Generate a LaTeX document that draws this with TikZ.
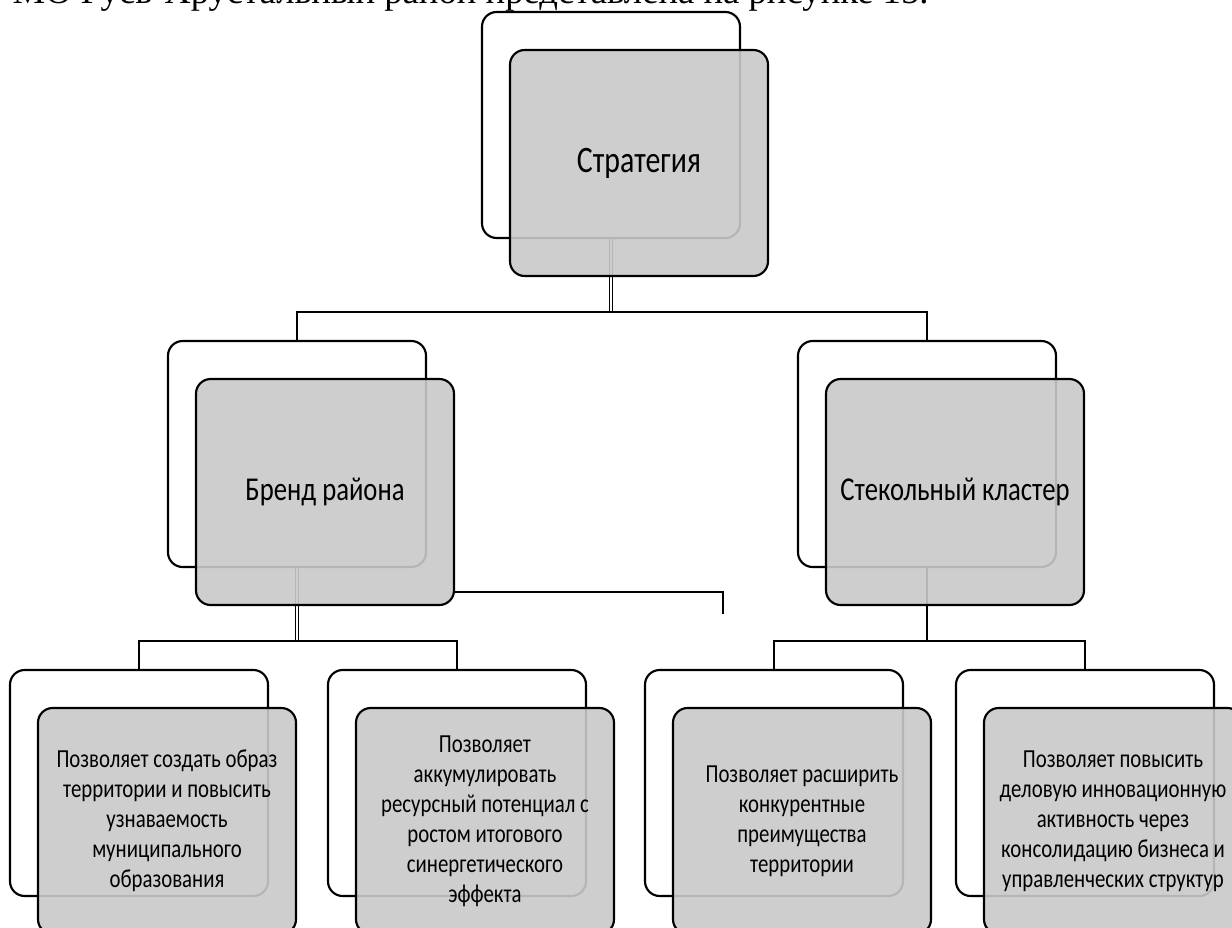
\documentclass[tikz,border=0pt]{standalone}
\usepackage{fontspec}
\setmainfont{Liberation Serif}
\newfontfamily\boxfont[FakeStretch=0.8]{Carlito}
\def\labelsize{\fontsize{25}{30}\selectfont}
\def\notesize{\fontsize{19.5}{22.5}\selectfont}

\begin{document}
\begin{tikzpicture}[x=0.75pt, y=-0.75pt,
    nodes = {font=\boxfont, text=black},
    back/.style  = {draw, line width=1.6pt, rounded corners=11pt, fill=white,
                    minimum width=193.5pt, minimum height=169.5pt, inner sep=2pt},
    front/.style = {back, fill=black!21, fill opacity=0.9, text opacity=1,
                    align=center},
    note/.style  = {front, font=\boxfont\notesize},
    link/.style  = {line width=1.5pt},
    stem/.style  = {line width=0.9pt, double, double distance=1.2pt}]
  \useasboundingbox (0,0) rectangle (1232,928);

  % line of text above the figure, cut by the page edge
  \node[anchor=base west, font=\rmfamily\fontsize{27.5}{32}\selectfont, text=black]
    (caption) at (8,3) {МО Гусь-Хрустальный район представлена на рисунке 15.};

  % back boxes
  \node[back] (stratB) at (611,125) {};
  \node[back] (brandB) at (297,454) {};
  \node[back] (glassB) at (927,454) {};
  \foreach \cx/\k in {139/1, 457/2, 774/3, 1085/4}
    \node[back] (effB\k) at (\cx,783) {};

  % connectors
  \draw[stem] (stratB.south) -- ++(0,73) coordinate (stratJ);
  \draw[link] (brandB.north) |- (stratJ) -| (glassB.north);
  \draw[stem] (brandB.south) -- ++(0,73) coordinate (brandJ);
  \draw[link] (effB1.north) |- (brandJ) -| (effB2.north);
  \draw[link, line width=2.2pt] (glassB.south) -- ++(0,73) coordinate (glassJ);
  \draw[link] (effB3.north) |- (glassJ) -| (effB4.north);

  % front boxes
  \node[front] (stratF) at ([shift={(28,38)}]stratB)
    {\fontsize{28}{32}\selectfont Стратегия};
  \node[front] (brandF) at ([shift={(28,38)}]brandB) {\labelsize Бренд района};
  \node[front] (glassF) at ([shift={(28,38)}]glassB) {\labelsize Стекольный кластер};
  \node[note] (effF1) at ([shift={(28,38)}]effB1)
    {Позволяет создать образ\\территории и повысить\\узнаваемость\\муниципального\\образования};
  \node[note] (effF2) at ([shift={(28,38)}]effB2)
    {Позволяет\\аккумулировать\\ресурсный потенциал с\\ростом итогового\\синергетического\\эффекта};
  \node[note] (effF3) at ([shift={(28,38)}]effB3)
    {Позволяет расширить\\конкурентные\\преимущества\\территории};
  \node[note] (effF4) at ([shift={(28,38)}]effB4)
    {Позволяет повысить\\деловую инновационную\\активность через\\консолидацию бизнеса и\\управленческих структур};

  % loose line off the right side of the brand box
  \coordinate (bend) at (723,592);
  \coordinate (loose) at (723,614);
  \draw[link] (brandF.east |- bend) -- (bend) -- (loose);
\end{tikzpicture}
\end{document}
